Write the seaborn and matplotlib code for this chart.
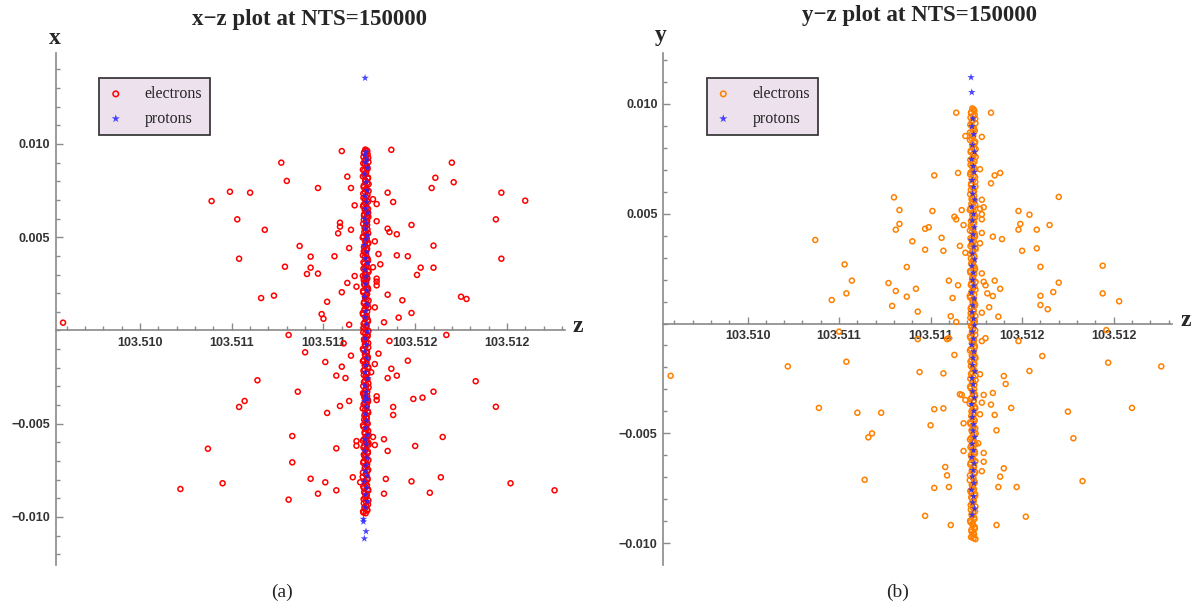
import matplotlib
matplotlib.use("Agg")
import matplotlib.pyplot as plt
import pandas as pd
import seaborn as sns
from matplotlib.ticker import MultipleLocator

# ---------------- data ----------------
# electrons in the dense central column (shared z for both views), batch 1
z_col_e = [
    103.511228, 103.511239, 103.511221, 103.511234, 103.511244, 103.511225, 103.511217, 103.511236, 103.511241, 103.511223,
    103.511231, 103.511215, 103.511242, 103.511229, 103.511246, 103.511219, 103.511235, 103.511226, 103.511240, 103.511218,
    103.511237, 103.511227, 103.511216, 103.511243, 103.511232, 103.511222, 103.511245, 103.511220, 103.511233, 103.511238,
    103.511224, 103.511230, 103.511244, 103.511217, 103.511236, 103.511228, 103.511241, 103.511221, 103.511234, 103.511226,
    103.511215, 103.511239, 103.511243, 103.511223, 103.511231, 103.511218, 103.511246, 103.511227, 103.511237, 103.511220,
    103.511233, 103.511225, 103.511242, 103.511216, 103.511238, 103.511229, 103.511235, 103.511222, 103.511240, 103.511245,
    103.511224, 103.511214, 103.511236, 103.511230, 103.511243, 103.511219, 103.511234, 103.511227, 103.511217, 103.511241,
    103.511232, 103.511223, 103.511244, 103.511228, 103.511215, 103.511237, 103.511226, 103.511242, 103.511220, 103.511235,
    103.511225, 103.511245, 103.511218, 103.511239, 103.511229, 103.511240, 103.511221, 103.511233, 103.511246, 103.511226,
    103.511216, 103.511238, 103.511231, 103.511243, 103.511219, 103.511234, 103.511227, 103.511244, 103.511223, 103.511236,
    103.511229, 103.511241, 103.511218, 103.511235, 103.511224, 103.511246, 103.511230, 103.511215, 103.511238, 103.511222,
    103.511233, 103.511242, 103.511220, 103.511227, 103.511245, 103.511217, 103.511236, 103.511225, 103.511239, 103.511231,
    103.511214, 103.511240, 103.511228, 103.511237, 103.511221, 103.511244, 103.511226, 103.511234, 103.511219, 103.511232,
    103.511243, 103.511224, 103.511238, 103.511216, 103.511230, 103.511241, 103.511223, 103.511235, 103.511228, 103.511245,
]
x_col_e = [
    0.00970, 0.00962, 0.00951, 0.00937, 0.00925, 0.00911, 0.00896, 0.00884, 0.00868, 0.00857,
    0.00841, 0.00826, 0.00815, 0.00798, 0.00785, 0.00769, 0.00754, 0.00742, 0.00726, 0.00711,
    0.00697, 0.00683, 0.00666, 0.00652, 0.00640, 0.00623, 0.00609, 0.00594, 0.00578, 0.00566,
    0.00549, 0.00535, 0.00521, 0.00505, 0.00492, 0.00476, 0.00463, 0.00447, 0.00432, 0.00419,
    0.00403, 0.00388, 0.00374, 0.00359, 0.00343, 0.00331, 0.00314, 0.00300, 0.00286, 0.00270,
    0.00257, 0.00241, 0.00227, 0.00212, 0.00196, 0.00184, 0.00167, 0.00153, 0.00139, 0.00122,
    0.00109, 0.00094, 0.00078, 0.00065, 0.00049, 0.00035, 0.00020, 0.00006, -0.00010, -0.00024,
    -0.00039, -0.00055, -0.00068, -0.00084, -0.00098, -0.00113, -0.00129, -0.00142, -0.00158, -0.00173,
    -0.00187, -0.00203, -0.00216, -0.00232, -0.00247, -0.00262, -0.00276, -0.00292, -0.00305, -0.00321,
    -0.00336, -0.00350, -0.00366, -0.00380, -0.00396, -0.00411, -0.00425, -0.00441, -0.00455, -0.00471,
    -0.00486, -0.00500, -0.00516, -0.00530, -0.00546, -0.00560, -0.00575, -0.00591, -0.00604, -0.00620,
    -0.00635, -0.00649, -0.00665, -0.00679, -0.00695, -0.00710, -0.00724, -0.00740, -0.00754, -0.00769,
    -0.00785, -0.00800, -0.00814, -0.00830, -0.00845, -0.00859, -0.00874, -0.00890, -0.00904, -0.00919,
    -0.00933, -0.00948, -0.00960, -0.00971, -0.00980, -0.00372, -0.00358, 0.00633, 0.00287, -0.00602,
]
y_col_e = [
    0.00979, 0.00968, 0.00957, 0.00944, 0.00931, 0.00918, 0.00904, 0.00890, 0.00877, 0.00862,
    0.00850, 0.00835, 0.00821, 0.00807, 0.00793, 0.00780, 0.00764, 0.00751, 0.00737, 0.00722,
    0.00708, 0.00694, 0.00679, 0.00666, 0.00651, 0.00637, 0.00623, 0.00608, 0.00595, 0.00580,
    0.00566, 0.00551, 0.00538, 0.00523, 0.00509, 0.00494, 0.00481, 0.00466, 0.00452, 0.00438,
    0.00423, 0.00410, 0.00395, 0.00381, 0.00367, 0.00352, 0.00339, 0.00324, 0.00310, 0.00296,
    0.00281, 0.00268, 0.00253, 0.00239, 0.00225, 0.00210, 0.00197, 0.00182, 0.00168, 0.00154,
    0.00139, 0.00126, 0.00111, 0.00097, 0.00083, 0.00068, 0.00055, 0.00040, 0.00026, 0.00012,
    -0.00003, -0.00016, -0.00031, -0.00045, -0.00059, -0.00074, -0.00087, -0.00102, -0.00116, -0.00130,
    -0.00145, -0.00158, -0.00173, -0.00187, -0.00201, -0.00216, -0.00229, -0.00244, -0.00258, -0.00272,
    -0.00287, -0.00300, -0.00315, -0.00329, -0.00343, -0.00358, -0.00371, -0.00386, -0.00400, -0.00414,
    -0.00429, -0.00442, -0.00457, -0.00471, -0.00485, -0.00500, -0.00513, -0.00528, -0.00542, -0.00556,
    -0.00571, -0.00584, -0.00599, -0.00613, -0.00627, -0.00642, -0.00655, -0.00670, -0.00684, -0.00698,
    -0.00713, -0.00726, -0.00741, -0.00755, -0.00769, -0.00784, -0.00797, -0.00812, -0.00826, -0.00840,
    -0.00855, -0.00868, -0.00883, -0.00897, -0.00911, -0.00926, -0.00939, -0.00954, -0.00967, -0.00981,
]
# electrons in the central column, batch 2
z_col_e2 = [
    103.511235, 103.511222, 103.511241, 103.511218, 103.511230, 103.511245, 103.511226, 103.511237, 103.511215, 103.511233,
    103.511224, 103.511243, 103.511228, 103.511239, 103.511220, 103.511234, 103.511246, 103.511217, 103.511231, 103.511227,
    103.511242, 103.511219, 103.511236, 103.511225, 103.511244, 103.511221, 103.511232, 103.511238, 103.511216, 103.511229,
    103.511240, 103.511223, 103.511235, 103.511214, 103.511230, 103.511245, 103.511227, 103.511238, 103.511220, 103.511233,
    103.511226, 103.511241, 103.511218, 103.511236, 103.511224, 103.511244, 103.511229, 103.511215, 103.511239, 103.511231,
    103.511222, 103.511237, 103.511243, 103.511217, 103.511234, 103.511227, 103.511246, 103.511220, 103.511232, 103.511225,
    103.511238, 103.511216, 103.511230, 103.511242, 103.511223, 103.511235, 103.511219, 103.511245, 103.511228, 103.511240,
    103.511221, 103.511233, 103.511226, 103.511244, 103.511218, 103.511236, 103.511229, 103.511241, 103.511215, 103.511231,
    103.511243, 103.511224, 103.511238, 103.511220, 103.511234, 103.511227, 103.511245, 103.511217, 103.511232, 103.511239,
    103.511219, 103.511230, 103.511241, 103.511225, 103.511236, 103.511214, 103.511242, 103.511228, 103.511235, 103.511222,
    103.511237, 103.511216, 103.511233, 103.511244, 103.511226, 103.511240, 103.511221, 103.511231, 103.511246, 103.511218,
    103.511229, 103.511242, 103.511223, 103.511235, 103.511219, 103.511238, 103.511227, 103.511244, 103.511215, 103.511234,
    103.511240, 103.511225, 103.511231, 103.511217, 103.511243, 103.511222, 103.511236, 103.511228, 103.511245, 103.511220,
    103.511233, 103.511226, 103.511239, 103.511218, 103.511230, 103.511242, 103.511224, 103.511237, 103.511221, 103.511235,
]
x_col_e2 = [
    0.00966, 0.00956, 0.00944, 0.00931, 0.00918, 0.00903, 0.00890, 0.00876, 0.00862, 0.00849,
    0.00833, 0.00820, 0.00806, 0.00791, 0.00777, 0.00761, 0.00748, 0.00734, 0.00718, 0.00704,
    0.00690, 0.00674, 0.00659, 0.00646, 0.00631, 0.00616, 0.00601, 0.00586, 0.00572, 0.00557,
    0.00542, 0.00528, 0.00513, 0.00498, 0.00484, 0.00469, 0.00455, 0.00439, 0.00425, 0.00411,
    0.00395, 0.00381, 0.00366, 0.00351, 0.00337, 0.00322, 0.00307, 0.00293, 0.00278, 0.00263,
    0.00249, 0.00234, 0.00219, 0.00204, 0.00190, 0.00175, 0.00160, 0.00146, 0.00130, 0.00116,
    0.00101, 0.00086, 0.00071, 0.00057, 0.00042, 0.00027, 0.00013, -0.00002, -0.00017, -0.00032,
    -0.00047, -0.00061, -0.00076, -0.00091, -0.00106, -0.00121, -0.00135, -0.00150, -0.00165, -0.00180,
    -0.00195, -0.00209, -0.00224, -0.00239, -0.00254, -0.00269, -0.00284, -0.00298, -0.00313, -0.00328,
    -0.00343, -0.00358, -0.00373, -0.00388, -0.00403, -0.00418, -0.00433, -0.00448, -0.00463, -0.00478,
    -0.00493, -0.00508, -0.00523, -0.00538, -0.00553, -0.00568, -0.00583, -0.00597, -0.00612, -0.00627,
    -0.00642, -0.00657, -0.00672, -0.00687, -0.00702, -0.00717, -0.00732, -0.00747, -0.00762, -0.00777,
    -0.00792, -0.00807, -0.00822, -0.00837, -0.00852, -0.00867, -0.00882, -0.00897, -0.00911, -0.00926,
    -0.00940, -0.00954, -0.00965, -0.00976, -0.00365, -0.00380, -0.00345, 0.00612, 0.00279, -0.00590,
]
y_col_e2 = [
    0.00974, 0.00962, 0.00950, 0.00937, 0.00924, 0.00911, 0.00897, 0.00883, 0.00869, 0.00856,
    0.00842, 0.00828, 0.00814, 0.00800, 0.00786, 0.00772, 0.00758, 0.00744, 0.00730, 0.00715,
    0.00701, 0.00687, 0.00673, 0.00659, 0.00644, 0.00630, 0.00616, 0.00602, 0.00588, 0.00573,
    0.00559, 0.00545, 0.00531, 0.00516, 0.00502, 0.00488, 0.00474, 0.00459, 0.00445, 0.00431,
    0.00417, 0.00402, 0.00388, 0.00374, 0.00360, 0.00345, 0.00331, 0.00317, 0.00303, 0.00288,
    0.00274, 0.00260, 0.00246, 0.00232, 0.00217, 0.00203, 0.00189, 0.00175, 0.00161, 0.00146,
    0.00132, 0.00118, 0.00104, 0.00090, 0.00075, 0.00061, 0.00047, 0.00033, 0.00019, 0.00004,
    -0.00010, -0.00024, -0.00038, -0.00052, -0.00066, -0.00081, -0.00095, -0.00109, -0.00123, -0.00137,
    -0.00152, -0.00166, -0.00180, -0.00194, -0.00208, -0.00223, -0.00237, -0.00251, -0.00265, -0.00279,
    -0.00294, -0.00308, -0.00322, -0.00336, -0.00350, -0.00365, -0.00379, -0.00393, -0.00407, -0.00421,
    -0.00436, -0.00450, -0.00464, -0.00478, -0.00492, -0.00507, -0.00521, -0.00535, -0.00549, -0.00563,
    -0.00578, -0.00592, -0.00606, -0.00620, -0.00634, -0.00649, -0.00663, -0.00677, -0.00691, -0.00705,
    -0.00720, -0.00734, -0.00748, -0.00762, -0.00776, -0.00791, -0.00805, -0.00819, -0.00833, -0.00847,
    -0.00862, -0.00876, -0.00890, -0.00904, -0.00918, -0.00933, -0.00947, -0.00960, -0.00972, -0.00977,
]

# scattered electrons, x-z view
z_out_xz = [
    103.51077, 103.51080, 103.51049, 103.51060, 103.51039, 103.51097, 103.51053, 103.51068, 103.51087, 103.51093,
    103.51054, 103.51079, 103.51093, 103.51091, 103.51097, 103.51073, 103.51066, 103.51102, 103.51099, 103.51100,
    103.50958, 103.51110, 103.51137, 103.51170, 103.51113, 103.51161, 103.51171, 103.51115, 103.51159, 103.51135,
    103.51197, 103.51210, 103.51117, 103.51129, 103.51127, 103.51138, 103.51194, 103.51129, 103.51109, 103.51109,
    103.51108, 103.51115, 103.51135, 103.51136, 103.51148, 103.51140, 103.51128, 103.51114, 103.51160, 103.51106,
    103.51130, 103.51140, 103.51146, 103.51197, 103.51131, 103.51127, 103.51153, 103.51160, 103.51151, 103.51117,
    103.51129, 103.51129, 103.51129, 103.51113, 103.51118, 103.51110, 103.51135, 103.51175, 103.51178, 103.51143,
    103.51128, 103.51148, 103.51114, 103.51133, 103.51141, 103.51081, 103.51090, 103.51101, 103.51064, 103.51086,
    103.51057, 103.51054, 103.51102, 103.51083, 103.51037, 103.51083, 103.51093, 103.51101, 103.51045, 103.51022,
    103.51097, 103.51081, 103.51167, 103.51136, 103.51111, 103.51130, 103.51115, 103.51146, 103.51110, 103.51128,
    103.51137, 103.51107, 103.51112, 103.51135, 103.51140, 103.51126, 103.51183, 103.51160, 103.51114, 103.51109,
    103.51154, 103.51149, 103.51129, 103.51129, 103.51138, 103.51138, 103.51194, 103.51165, 103.51127, 103.51133,
    103.51118, 103.51118, 103.51128, 103.51150, 103.51107, 103.51135, 103.51116, 103.51120, 103.51134, 103.51148,
    103.51164, 103.51202, 103.51107, 103.51133, 103.51158, 103.51226,
]
x_out_xz = [
    0.00900, 0.00802, 0.00744, 0.00739, 0.00694, 0.00764, 0.00596, 0.00540, 0.00453, 0.00396,
    0.00385, 0.00342, 0.00337, 0.00303, 0.00305, 0.00187, 0.00174, 0.00154, 0.00088, 0.00063,
    0.00042, 0.00962, 0.00969, 0.00900, 0.00825, 0.00819, 0.00795, 0.00764, 0.00764, 0.00739,
    0.00739, 0.00696, 0.00671, 0.00678, 0.00704, 0.00689, 0.00596, 0.00586, 0.00578, 0.00557,
    0.00521, 0.00540, 0.00546, 0.00528, 0.00566, 0.00516, 0.00478, 0.00442, 0.00455, 0.00398,
    0.00410, 0.00403, 0.00398, 0.00385, 0.00355, 0.00339, 0.00337, 0.00337, 0.00298, 0.00292,
    0.00278, 0.00262, 0.00242, 0.00255, 0.00235, 0.00205, 0.00192, 0.00181, 0.00169, 0.00162,
    0.00124, 0.00094, 0.00031, 0.00044, 0.00069, -0.00024, -0.00117, -0.00169, -0.00267, -0.00328,
    -0.00378, -0.00410, -0.00442, -0.00566, -0.00634, -0.00707, -0.00795, -0.00814, -0.00819, -0.00850,
    -0.00875, -0.00907, -0.00024, -0.00056, -0.00069, -0.00124, -0.00135, -0.00162, -0.00194, -0.00180,
    -0.00205, -0.00242, -0.00255, -0.00255, -0.00242, -0.00224, -0.00272, -0.00328, -0.00378, -0.00405,
    -0.00360, -0.00367, -0.00353, -0.00373, -0.00410, -0.00453, -0.00409, -0.00571, -0.00571, -0.00583,
    -0.00593, -0.00618, -0.00614, -0.00619, -0.00632, -0.00646, -0.00787, -0.00814, -0.00796, -0.00809,
    -0.00787, -0.00819, -0.00857, -0.00875, -0.00870, -0.00857,
]

# scattered electrons, y-z view
z_out_yz = [
    103.51114, 103.51119, 103.51115, 103.51102, 103.51080, 103.51083, 103.51101, 103.51083, 103.51081, 103.51113,
    103.51114, 103.51117, 103.51097, 103.51099, 103.51037, 103.51106, 103.51090, 103.51116, 103.51097, 103.51107,
    103.51119, 103.51053, 103.51087, 103.51057, 103.51077, 103.51110, 103.51115, 103.51081, 103.51092, 103.51054,
    103.51087, 103.51112, 103.51046, 103.51079, 103.51093, 103.51111, 103.51114, 103.51133, 103.51128, 103.51127,
    103.51135, 103.51138, 103.51133, 103.51170, 103.51128, 103.51129, 103.51127, 103.51128, 103.51128, 103.51148,
    103.51154, 103.51149, 103.51148, 103.51165, 103.51158, 103.51118, 103.51128, 103.51134, 103.51139, 103.51127,
    103.51150, 103.51158, 103.51160, 103.51194, 103.51128, 103.51135, 103.51129, 103.51170, 103.51130, 103.51138,
    103.51167, 103.51194, 103.51131, 103.51134, 103.51160, 103.51203, 103.51160, 103.51132, 103.51164, 103.51137,
    103.51128, 103.50958, 103.51022, 103.51054, 103.51039, 103.51060, 103.51073, 103.51068, 103.51066, 103.51064,
    103.51050, 103.51093, 103.51109, 103.51110, 103.51094, 103.51107, 103.51113, 103.51102, 103.51107, 103.51100,
    103.51116, 103.51117, 103.51119, 103.51118, 103.51118, 103.51108, 103.51109, 103.51102, 103.51110, 103.51097,
    103.51111, 103.51130, 103.51128, 103.51148, 103.51161, 103.51197, 103.51226, 103.51127, 103.51140, 103.51154,
    103.51141, 103.51129, 103.51134, 103.51128, 103.51133, 103.51144, 103.51210, 103.51175, 103.51135, 103.51127,
    103.51136, 103.51178, 103.51126, 103.51129, 103.51129, 103.51140, 103.51138, 103.51128, 103.51137, 103.51147,
    103.51183, 103.51152, 103.51136, 103.51196,
]
y_out_yz = [
    0.00959, 0.00853, 0.00685, 0.00674, 0.00574, 0.00516, 0.00512, 0.00453, 0.00427, 0.00486,
    0.00474, 0.00516, 0.00431, 0.00438, 0.00380, 0.00390, 0.00374, 0.00353, 0.00336, 0.00331,
    0.00322, 0.00269, 0.00257, 0.00195, 0.00184, 0.00195, 0.00174, 0.00148, 0.00158, 0.00137,
    0.00122, 0.00116, 0.00107, 0.00080, 0.00054, 0.00033, 0.00007, 0.00959, 0.00849, 0.00702,
    0.00674, 0.00685, 0.00638, 0.00576, 0.00563, 0.00529, 0.00522, 0.00497, 0.00474, 0.00512,
    0.00495, 0.00453, 0.00427, 0.00448, 0.00427, 0.00448, 0.00412, 0.00395, 0.00384, 0.00365,
    0.00331, 0.00342, 0.00258, 0.00263, 0.00228, 0.00195, 0.00190, 0.00186, 0.00174, 0.00158,
    0.00143, 0.00137, 0.00137, 0.00125, 0.00126, 0.00101, 0.00084, 0.00074, 0.00065, 0.00031,
    0.00049, -0.00238, -0.00195, -0.00174, -0.00384, -0.00406, -0.00406, -0.00500, -0.00518, -0.00711,
    -0.00037, -0.00071, -0.00071, -0.00067, -0.00221, -0.00227, -0.00143, -0.00390, -0.00386, -0.00463,
    -0.00322, -0.00325, -0.00348, -0.00454, -0.00580, -0.00653, -0.00691, -0.00748, -0.00744, -0.00875,
    -0.00917, -0.00067, -0.00080, -0.00080, -0.00148, -0.00178, -0.00195, -0.00231, -0.00239, -0.00216,
    -0.00275, -0.00325, -0.00316, -0.00360, -0.00369, -0.00384, -0.00384, -0.00401, -0.00416, -0.00413,
    -0.00486, -0.00522, -0.00545, -0.00589, -0.00629, -0.00659, -0.00697, -0.00672, -0.00744, -0.00744,
    -0.00717, -0.00879, -0.00917, -0.00030,
]

# protons (central column, shared z)
z_col_p = [
    103.511231, 103.511226, 103.511236, 103.511229, 103.511240, 103.511224, 103.511233, 103.511238, 103.511227, 103.511235,
    103.511230, 103.511242, 103.511225, 103.511234, 103.511228, 103.511239, 103.511232, 103.511223, 103.511237, 103.511229,
    103.511241, 103.511226, 103.511233, 103.511230, 103.511236, 103.511224, 103.511238, 103.511231, 103.511227, 103.511235,
    103.511240, 103.511228, 103.511234, 103.511225, 103.511237, 103.511232, 103.511229, 103.511242, 103.511226, 103.511233,
    103.511230, 103.511239, 103.511224, 103.511236, 103.511228, 103.511235, 103.511231, 103.511241, 103.511227, 103.511234,
    103.511225, 103.511238, 103.511232, 103.511229, 103.511237, 103.511223, 103.511235, 103.511230, 103.511240, 103.511227,
]
x_col_p = [
    0.00958, 0.00941, 0.00917, 0.00902, 0.00873, 0.00836, 0.00795, 0.00752, 0.00721, 0.00688,
    0.00655, 0.00631, 0.00598, 0.00573, 0.00546, 0.00512, 0.00489, 0.00457, 0.00421, 0.00388,
    0.00362, 0.00325, 0.00288, 0.00251, 0.00213, 0.00179, 0.00142, 0.00104, 0.00071, 0.00032,
    -0.00005, -0.00041, -0.00078, -0.00113, -0.00149, -0.00186, -0.00223, -0.00257, -0.00296, -0.00331,
    -0.00352, -0.00367, -0.00380, -0.00412, -0.00447, -0.00486, -0.00521, -0.00559, -0.00584, -0.00612,
    -0.00648, -0.00683, -0.00722, -0.00753, -0.00779, -0.00812, -0.00846, -0.00879, -0.00915, -0.00948,
]
y_col_p = [
    0.00932, 0.00897, 0.00861, 0.00812, 0.00781, 0.00748, 0.00716, 0.00689, 0.00652, 0.00621,
    0.00590, 0.00563, 0.00531, 0.00498, 0.00469, 0.00437, 0.00405, 0.00378, 0.00349, 0.00318,
    0.00291, 0.00262, 0.00231, 0.00198, 0.00172, 0.00141, 0.00113, 0.00082, 0.00051, 0.00022,
    -0.00009, -0.00038, -0.00069, -0.00097, -0.00128, -0.00157, -0.00189, -0.00218, -0.00249, -0.00277,
    -0.00309, -0.00338, -0.00367, -0.00398, -0.00427, -0.00459, -0.00488, -0.00517, -0.00548, -0.00577,
    -0.00608, -0.00637, -0.00668, -0.00697, -0.00726, -0.00757, -0.00786, -0.00815, -0.00843, -0.00871,
]
# stray protons
z_out_p_xz = [103.511227, 103.511218, 103.511218, 103.511232, 103.511223]
x_out_p_xz = [0.01354, -0.01011, -0.01025, -0.01077, -0.01116]
z_out_p_yz = [103.511221, 103.511225]
y_out_p_yz = [0.01120, 0.01052]

z_ticks = [103.5100, 103.5105, 103.5110, 103.5115, 103.5120]
z_tick_labels = ["103.510", "103.511", "103.511", "103.512", "103.512"]
t_ticks = [-0.010, -0.005, 0.005, 0.010]
t_tick_labels = ["\u22120.010", "\u22120.005", "0.005", "0.010"]

assert len(z_col_e) == len(x_col_e) == len(y_col_e)
assert len(z_col_e2) == len(x_col_e2) == len(y_col_e2)
assert len(z_out_xz) == len(x_out_xz)
assert len(z_out_yz) == len(y_out_yz)
assert len(z_col_p) == len(x_col_p) == len(y_col_p)

# ---------------- figure ----------------
sns.set_style("white")
plt.rcParams['font.family'] = ['Liberation Sans', 'DejaVu Sans']

W, H = 1194, 604
fig = plt.figure(figsize=(W / 100, H / 100), dpi=100)
ax1 = fig.add_axes([55.7 / W, 39 / H, 509.3 / W, 512 / H])
ax2 = fig.add_axes([663.3 / W, 39 / H, 508.4 / W, 512 / H])

SERIF = ['Liberation Serif', 'DejaVu Serif']
AXC = '#8a8a8a'


def draw(ax, ze, ve, zp, vp, ecol, ylim):
    dfe = pd.DataFrame({'z': ze, 'v': ve})
    dfp = pd.DataFrame({'z': zp, 'v': vp})
    sns.scatterplot(data=dfe, x='z', y='v', ax=ax, marker='o', s=13,
                    color=ecol, facecolor='none', edgecolor=ecol,
                    linewidth=1.1, label='electrons', zorder=3)
    sns.scatterplot(data=dfp, x='z', y='v', ax=ax, marker='*', s=32,
                    color='#2626ff', edgecolor='none', linewidth=0,
                    alpha=0.85, label='protons', zorder=4)
    ax.set_xlim(103.509540, 103.512317)
    ax.set_ylim(*ylim)
    ax.set_xlabel('')
    ax.set_ylabel('')
    for s in ('top', 'right'):
        ax.spines[s].set_visible(False)
    ax.spines['bottom'].set_position(('data', 0))
    for s in ('left', 'bottom'):
        ax.spines[s].set_color(AXC)
        ax.spines[s].set_linewidth(1.2)
    ax.set_xticks(z_ticks, labels=z_tick_labels, fontweight='bold',
                  fontsize=9, color='#333333', fontfamily='Liberation Sans')
    ax.set_yticks(t_ticks, labels=t_tick_labels, fontweight='bold',
                  fontsize=9, color='#333333', fontfamily='Liberation Sans')
    ax.xaxis.set_minor_locator(MultipleLocator(0.0001))
    ax.yaxis.set_minor_locator(MultipleLocator(0.001))
    ax.tick_params(which='both', direction='in', color=AXC, width=1.0)
    ax.tick_params(which='major', length=5)
    ax.tick_params(which='minor', length=2.8)
    ax.tick_params(axis='x', which='both', pad=5, bottom=True, top=False)
    ax.tick_params(axis='y', which='both', pad=4, left=True, right=False)
    ax.grid(False)
    leg = ax.legend(loc='upper left', bbox_to_anchor=(0.085, 0.951),
                    borderaxespad=0, frameon=True, fancybox=False,
                    framealpha=1, prop={'family': SERIF, 'size': 11.5},
                    handlelength=1.1, handletextpad=1.27, borderpad=0.5,
                    labelspacing=0.55, markerscale=1.1)
    fr = leg.get_frame()
    fr.set_facecolor('#EEE1EE')
    fr.set_edgecolor('#3a3a3a')
    fr.set_linewidth(1.3)


draw(ax1, z_col_e + z_col_e2 + z_out_xz, x_col_e + x_col_e2 + x_out_xz,
     z_col_p + z_out_p_xz, x_col_p + x_out_p_xz,
     '#ff0000', (-0.012574, 0.014879))
draw(ax2, z_col_e + z_col_e2 + z_out_yz, y_col_e + y_col_e2 + y_out_yz,
     z_col_p + z_out_p_yz, y_col_p + y_out_p_yz,
     '#ff8000', (-0.010988, 0.012308))

# titles, axis names and captions
fig.text(310 / W, 1 - 19 / H, 'x\u2212z plot at NTS=150000', ha='center', va='center',
         fontsize=16.5, fontweight='bold', family=SERIF)
fig.text(919 / W, 1 - 15 / H, 'y\u2212z plot at NTS=150000', ha='center', va='center',
         fontsize=16.5, fontweight='bold', family=SERIF)
fig.text(55 / W, 1 - 38 / H, 'x', ha='center', va='center', fontsize=17,
         fontweight='bold', family=SERIF)
fig.text(578 / W, 1 - 327 / H, 'z', ha='center', va='center', fontsize=17,
         fontweight='bold', family=SERIF)
fig.text(661 / W, 1 - 36 / H, 'y', ha='center', va='center', fontsize=17,
         fontweight='bold', family=SERIF)
fig.text(1186 / W, 1 - 320 / H, 'z', ha='center', va='center', fontsize=17,
         fontweight='bold', family=SERIF)
fig.text(282 / W, 1 - 592 / H, '(a)', ha='center', va='center', fontsize=14,
         family=SERIF)
fig.text(898 / W, 1 - 592 / H, '(b)', ha='center', va='center', fontsize=14,
         family=SERIF)

fig.savefig('out.png', dpi=100, facecolor='white')
